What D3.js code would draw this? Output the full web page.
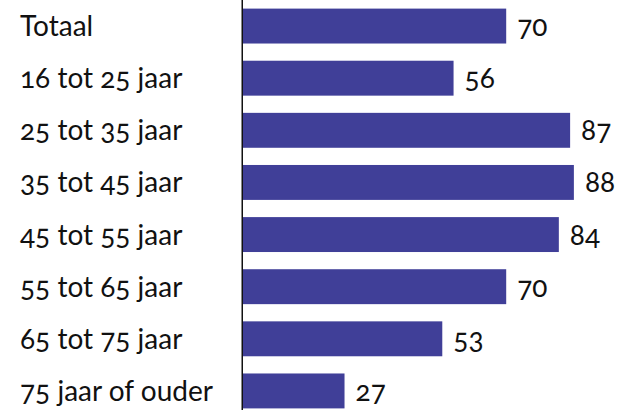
<!DOCTYPE html>
<html>
<head>
<meta charset="utf-8">
<script src="https://cdn.jsdelivr.net/npm/d3@7"></script>
<style>
  html, body { margin: 0; padding: 0; background: #fff; }
  svg text { font-family: Lato, "Open Sans", sans-serif; font-variant-numeric: oldstyle-nums; fill: #111; }
</style>
</head>
<body>
<div id="chart"></div>
<script>
// Chart data
const categories = ["Totaal", "16 tot 25 jaar", "25 tot 35 jaar", "35 tot 45 jaar",
                    "45 tot 55 jaar", "55 tot 65 jaar", "65 tot 75 jaar", "75 jaar of ouder"];
const values = [70, 56, 87, 88, 84, 70, 53, 27];

const width = 633, height = 410;
const axisX = 243;

const svg = d3.select("#chart").append("svg")
  .attr("width", width)
  .attr("height", height);

const x = d3.scaleLinear().domain([0, 100]).range([axisX, axisX + 376]);
const y = d3.scaleBand().domain(categories).range([0, 417]).paddingInner(0.33).paddingOuter(0.165);

// Bars
svg.append("g").selectAll("rect")
  .data(values)
  .join("rect")
  .attr("x", x(0))
  .attr("y", (d, i) => y(categories[i]))
  .attr("width", d => x(d) - x(0))
  .attr("height", y.bandwidth())
  .attr("fill", "#403f98");

// Value labels
svg.append("g").selectAll("text")
  .data(values)
  .join("text")
  .attr("x", d => x(d) + 11)
  .attr("y", (d, i) => y(categories[i]) + y.bandwidth() / 2 + 10)
  .attr("font-size", 28)
  .text(d => d);

// Category labels
svg.append("g").selectAll("text")
  .data(categories)
  .join("text")
  .attr("x", 20)
  .attr("y", d => y(d) + y.bandwidth() / 2 + 10)
  .attr("font-size", 28)
  .text(d => d);

// Vertical axis line
svg.append("line")
  .attr("x1", axisX - 0.75).attr("x2", axisX - 0.75)
  .attr("y1", 0).attr("y2", height)
  .attr("stroke", "#111")
  .attr("stroke-width", 1.5);
</script>
</body>
</html>
